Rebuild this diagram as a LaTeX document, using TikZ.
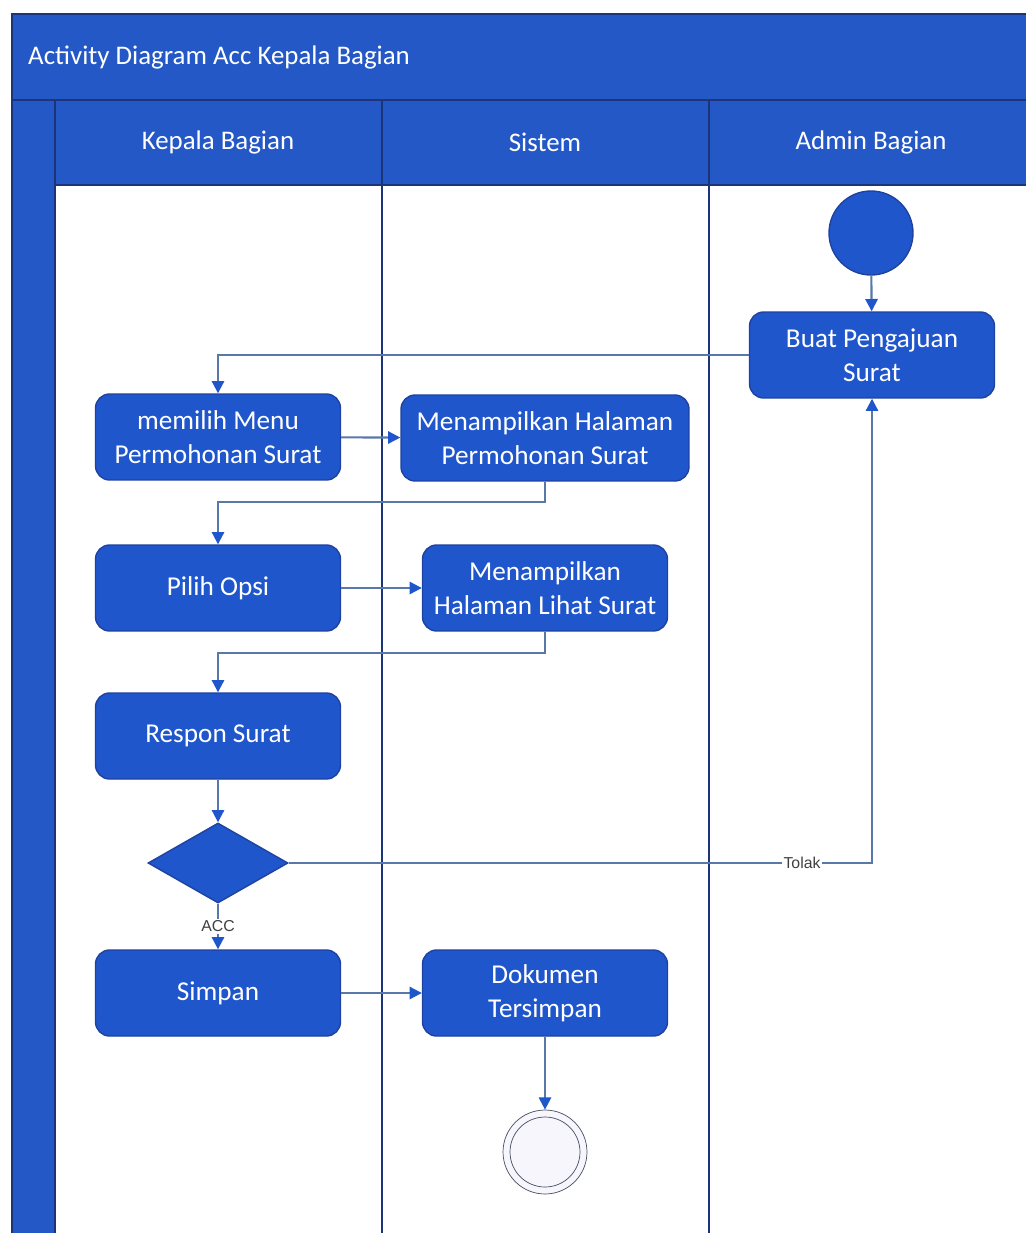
\documentclass[tikz,border=0pt]{standalone}
\usepackage{fontspec}
\setmainfont{Carlito}
\setsansfont{Liberation Sans}
\usepackage{tikz}
\usetikzlibrary{shapes.geometric, arrows.meta, positioning}
\definecolor{swimBlue}{RGB}{36,88,198}
\definecolor{swimEdge}{RGB}{28,52,120}
\definecolor{actBlue}{RGB}{32,86,204}
\definecolor{actEdge}{RGB}{30,66,160}
\definecolor{flowGray}{RGB}{88,120,170}
\definecolor{ringGray}{RGB}{70,78,100}
\definecolor{ringFill}{RGB}{246,246,252}

\begin{document}
\begin{tikzpicture}[x=0.02cm, y=-0.02cm,
      lanehead/.style={font=\fontsize{15.3}{18}\selectfont, text=white},
      aksi/.style={rectangle, rounded corners=8pt, fill=actBlue, draw=actEdge, thick, minimum width=4.9cm,
      minimum height=1.72cm, align=center, text=white, font=\fontsize{15.5}{19.3}\selectfont},
      awal/.style={circle, fill=actBlue, draw=actEdge, thick, minimum size=1.68cm},
      pilihan/.style={diamond, fill=actBlue, draw=actEdge, thick, minimum width=2.8cm, minimum height=1.6cm, inner sep=0pt},
      flow/.style={draw=flowGray, line width=1.2pt, -{Triangle[width=7pt, length=7pt, color=actBlue]}},
      ket/.style={font=\sffamily\fontsize{9}{10}\selectfont, text=black!75, fill=white, inner sep=1pt}
    ]
    \useasboundingbox (0,0) rectangle (1026,1233);

    % swimlane frame
    \fill[swimBlue] (12,14) rectangle (1026,1233);
    \draw[swimEdge, thick] (12,1233) -- (12,14) -- (1026,14);
    \fill[white] (55,185) rectangle (1026,1233);
    \draw[swimEdge, line width=1pt] (12,100) -- (1026,100) (55,100) -- (55,1233) (55,185) -- (1026,185);
    \draw[swimEdge, line width=1.2pt] (382,100) -- (382,1233) (709,100) -- (709,1233);

    \node[lanehead, anchor=west] (judul) at (22,57) {Activity Diagram Acc Kepala Bagian};
    \node[lanehead] (kabag) at (218,142) {Kepala Bagian};
    \node[lanehead] (sistem) at (545,142) {Sistem};
    \node[lanehead] (admin) at (871,142) {Admin Bagian};

    % activities
    \node[awal] (mulai) at (871,233) {};
    \node[aksi] (buat) at (872,355) {Buat Pengajuan\\Surat};
    \node[aksi] (pilihMenu) at (218,437) {memilih Menu\\Permohonan Surat};
    \node[aksi, minimum width=5.76cm] (tampilMenu) at (545,438) {Menampilkan Halaman\\Permohonan Surat};
    \node[aksi] (opsi) at (218,588) {Pilih Opsi};
    \node[aksi] (tampilSurat) at (545,588) {Menampilkan\\Halaman Lihat Surat};
    \node[aksi] (respon) at (218,736) {Respon Surat};
    \node[pilihan] (cek) at (218,863) {};
    \node[aksi] (simpan) at (218,993) {Simpan};
    \node[aksi] (dokumen) at (545,993) {Dokumen\\Tersimpan};
    \node[circle, fill=ringFill, draw=ringGray, minimum size=1.68cm] (akhir) at (545,1152) {};
    \node[circle, draw=ringGray, minimum size=1.4cm] (akhirDalam) at (akhir) {};

    % flows
    \draw[flow] (mulai) -- (buat);
    \draw[flow] (buat.west) -| (pilihMenu.north);
    \draw[flow] (pilihMenu) -- (tampilMenu);
    \draw[flow] (tampilMenu.south) -- ++(0,20) -| (opsi.north);
    \draw[flow] (opsi) -- (tampilSurat);
    \draw[flow] (tampilSurat.south) -- ++(0,21) -| (respon.north);
    \draw[flow] (respon) -- (cek);
    \draw[flow] (cek.east) -| node[ket, pos=0.44] {Tolak} (buat.south);
    \draw[flow] (cek) -- node[ket] {ACC} (simpan);
    \draw[flow] (simpan) -- (dokumen);
    \draw[flow] (dokumen) -- (akhir);
  \end{tikzpicture}
\end{document}
